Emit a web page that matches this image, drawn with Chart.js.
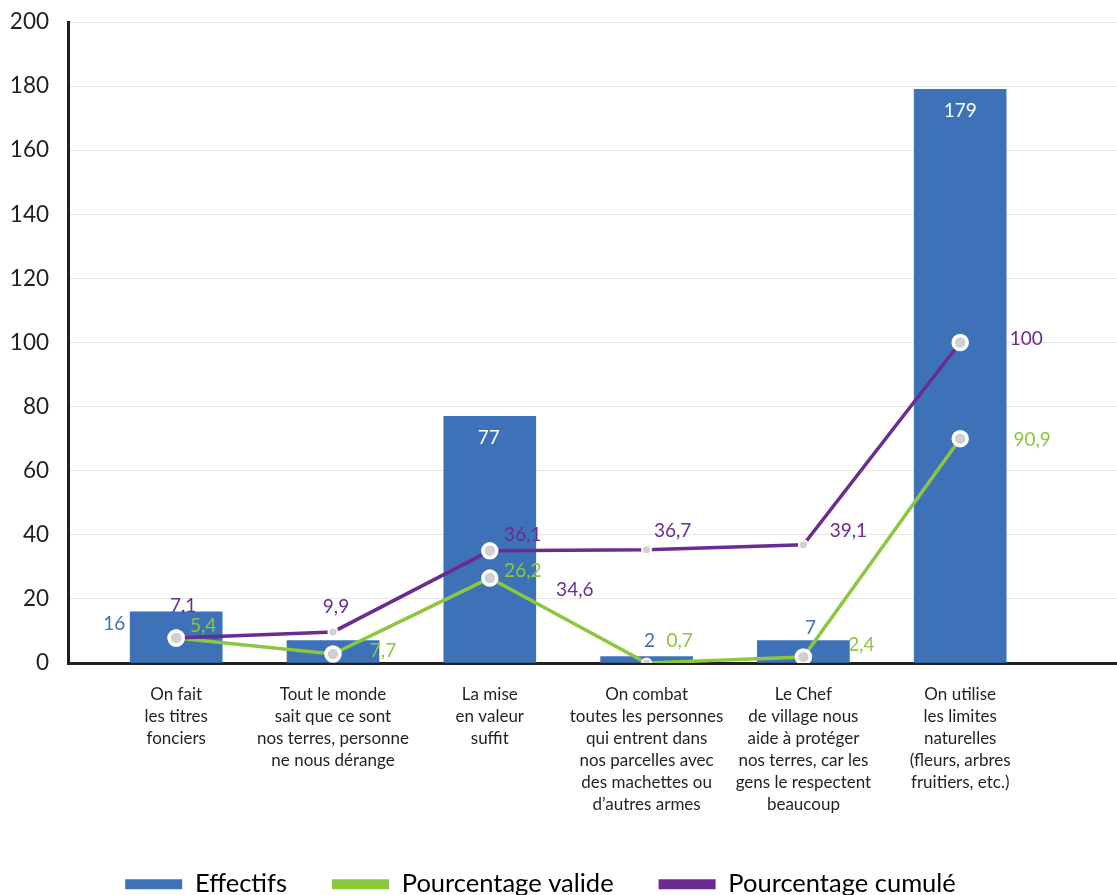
<!DOCTYPE html>
<html><head><meta charset="utf-8">
<script src="https://cdn.jsdelivr.net/npm/chart.js@4.4.1/dist/chart.umd.min.js"></script>
<style>
html,body{margin:0;padding:0;background:#fff;overflow:hidden}
#wrap{width:1117px;height:895px;overflow:hidden;position:relative}
canvas{display:block}
</style></head><body>
<div id="wrap"><canvas id="c" width="1117" height="907"></canvas></div>
<script>
// ---- data ----
const categories = [
  ["On fait","les titres","fonciers"],
  ["Tout le monde","sait que ce sont","nos terres, personne","ne nous dérange"],
  ["La mise","en valeur","suffit"],
  ["On combat","toutes les personnes","qui entrent dans","nos parcelles avec","des machettes ou","d’autres armes"],
  ["Le Chef","de village nous","aide à protéger","nos terres, car les","gens le respectent","beaucoup"],
  ["On utilise","les limites","naturelles","(fleurs, arbres","fruitiers, etc.)"]
];
const seriesNames = ["Effectifs","Pourcentage valide","Pourcentage cumulé"];
const effectifs = [16, 7, 77, 2, 7, 179];
const pctValide = [7.8, 2.8, 26.5, 0, 1.9, 70];
const pctCumule = [7.8, 9.7, 35, 35.3, 36.9, 100];
const effectifsLabels = ["16", "", "77", "2", "7", "179"];
const valideLabels = ["5,4", "7,7", "26,2", "0,7", "2,4", "90,9"];
const cumuleLabels = ["7,1", "9,9", "36,1", "36,7", "39,1", "100"];
const extraCumuleLabel = "34,6";
const yTickValues = [0, 20, 40, 60, 80, 100, 120, 140, 160, 180, 200];

// ---- styles ----
const BLUE = "#3d72b8", GREEN = "#8dc63f", PURPLE = "#6a2c91";
const FONT = "Lato";
const colors = [BLUE, GREEN, PURPLE];
const CANVAS_H = 907, AXIS_BOTTOM = 663;

// label placement (pixel offsets from the element's anchor)
const labelStyle = [
  { dx: [-62, 0, -1, 3, 7, 0], dy: [12, 0, 22, -16, -13, 22],
    color: [BLUE, BLUE, "#ffffff", BLUE, BLUE, "#ffffff"] },
  { dx: [27, 50, 33, 33, 58, 72], dy: [-12, -3, -7, -22, -12, 1], color: GREEN },
  { dx: [7, 3, 33, 26, 45, 66], dy: [-32, -25, -16, -19, -14, -4], color: PURPLE }
];
const extraStyle = { dataset: 2, index: 2, dx: 85, dy: 39, color: PURPLE };
const labelTexts = [effectifsLabels, valideLabels, cumuleLabels];

const bigR = 7, smallR = 4.5;
const valideRadius = [bigR, bigR, bigR, smallR, bigR, bigR];
const valideBW = [3.5, 3.5, 3.5, 2, 3.5, 3.5];
const cumuleRadius = [bigR, smallR, bigR, smallR, smallR, bigR];
const cumuleBW = [3.5, 2, 3.5, 2, 2, 3.5];

const toXY = arr => arr.map((v, i) => ({ x: i, y: v }));

const labelPlugin = {
  id: "valueLabels",
  afterDatasetsDraw(chart) {
    const ctx = chart.ctx;
    ctx.save();
    ctx.font = "19px " + FONT;
    ctx.textAlign = "center";
    ctx.textBaseline = "middle";
    chart.data.datasets.forEach((ds, di) => {
      const meta = chart.getDatasetMeta(di);
      const st = labelStyle[di];
      meta.data.forEach((el, i) => {
        const t = labelTexts[di][i];
        if (!t) return;
        ctx.fillStyle = Array.isArray(st.color) ? st.color[i] : st.color;
        ctx.fillText(t, el.x + st.dx[i], el.y + st.dy[i]);
      });
    });
    const el = chart.getDatasetMeta(extraStyle.dataset).data[extraStyle.index];
    ctx.fillStyle = extraStyle.color;
    ctx.fillText(extraCumuleLabel, el.x + extraStyle.dx, el.y + extraStyle.dy);
    ctx.restore();
  }
};

const legendShift = {
  id: "legendShift",
  afterLayout(chart) {
    if (chart.legend) { chart.legend.left -= 18; chart.legend.right -= 18; }
  }
};

new Chart(document.getElementById("c"), {
  data: {
    datasets: [
      { type: "bar", label: seriesNames[0], data: toXY(effectifs), backgroundColor: BLUE,
        barThickness: 92, order: 3 },
      { type: "line", label: seriesNames[1], data: toXY(pctValide), borderColor: GREEN, backgroundColor: GREEN,
        borderWidth: 3.5, tension: 0, pointRadius: valideRadius, pointBorderWidth: valideBW,
        pointBackgroundColor: "#d0d0d0", pointBorderColor: "#ffffff", order: 2 },
      { type: "line", label: seriesNames[2], data: toXY(pctCumule), borderColor: PURPLE, backgroundColor: PURPLE,
        borderWidth: 3.5, tension: 0, pointRadius: cumuleRadius, pointBorderWidth: cumuleBW,
        pointBackgroundColor: "#d0d0d0", pointBorderColor: "#ffffff", order: 1 }
    ]
  },
  options: {
    responsive: false,
    animation: false,
    layout: { autoPadding: false, padding: { top: 22, left: 0, right: 0, bottom: 0 } },
    scales: {
      x: {
        type: "linear", min: -0.69, max: 6.0, offset: false,
        afterBuildTicks: s => { s.ticks = categories.map((c, i) => ({ value: i })); },
        afterFit: s => {
          const lh = (s.chart.legend && s.chart.legend.height) || 80;
          s.height = CANVAS_H - lh - AXIS_BOTTOM; s.paddingLeft = 0; s.paddingRight = 0;
        },
        grid: { display: false, drawTicks: false, offset: false },
        border: { display: true, color: "#231f20", width: 3 },
        ticks: {
          autoSkip: false, maxRotation: 0, padding: 21, color: "#231f20",
          font: { family: FONT, size: 17, lineHeight: 1.294 },
          callback: v => categories[v] || ""
        }
      },
      y: {
        min: 0, max: 200,
        afterBuildTicks: s => { s.ticks = yTickValues.map(v => ({ value: v })); },
        afterFit: s => { s.width = 68; s.paddingTop = 0; s.paddingBottom = 0; },
        grid: { color: "#e6e6e6", lineWidth: 1, drawTicks: false },
        border: { display: true, color: "#231f20", width: 3 },
        ticks: { padding: 19, color: "#231f20", font: { family: FONT, size: 22.5 } }
      }
    },
    plugins: {
      tooltip: { enabled: false },
      legend: {
        position: "bottom",
        labels: {
          boxWidth: 57, boxHeight: 10, padding: 45, color: "#333333",
          font: { family: FONT, size: 25.5 },
          generateLabels: chart => chart.data.datasets.map((ds, i) => ({
            text: ds.label, fillStyle: colors[i], strokeStyle: colors[i], lineWidth: 0,
            hidden: false, datasetIndex: i
          }))
        }
      }
    }
  },
  plugins: [labelPlugin, legendShift]
});
</script>
</body></html>
